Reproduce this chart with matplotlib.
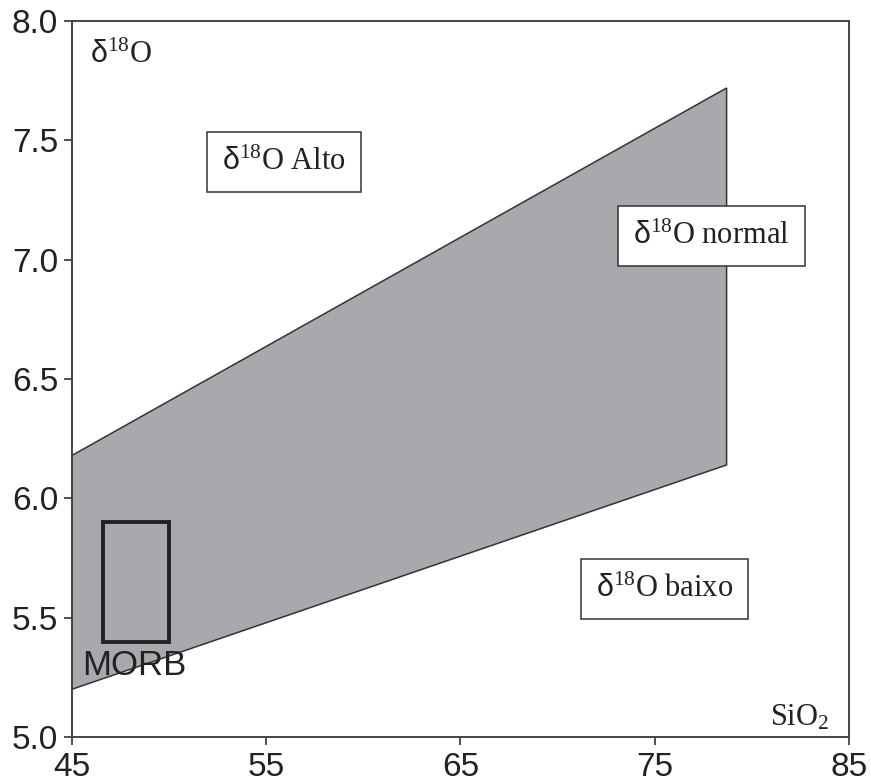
import matplotlib
matplotlib.use('Agg')
import matplotlib.pyplot as plt
from matplotlib.patches import Polygon, Rectangle

plt.rcParams['font.family'] = ['Liberation Sans', 'DejaVu Sans']
plt.rcParams['mathtext.fontset'] = 'custom'
plt.rcParams['mathtext.rm'] = 'Liberation Serif'
plt.rcParams['mathtext.sf'] = 'Liberation Sans'
plt.rcParams['mathtext.it'] = 'Liberation Serif:italic'

# field of normal d18O values (SiO2, d18O), listed around the outline
field_sio2 = [45.0, 78.7, 78.7, 45.0]
field_d18o = [6.18, 7.72, 6.14, 5.20]

# MORB range
morb_sio2 = [46.6, 50.0]
morb_d18o = [5.40, 5.90]

x_ticks = [45, 55, 65, 75, 85]
y_ticks = [5.0, 5.5, 6.0, 6.5, 7.0, 7.5, 8.0]

# region labels: text, SiO2, d18O
labels = [
    (r'$\mathsf{\delta}^{\mathrm{18}}\mathrm{O\ Alto}$', 55.9, 7.41),
    (r'$\mathsf{\delta}^{\mathrm{18}}\mathrm{O\ normal}$', 77.9, 7.10),
    (r'$\mathsf{\delta}^{\mathrm{18}}\mathrm{O\ baixo}$', 75.5, 5.62),
]

fig = plt.figure(figsize=(8.71, 7.84), dpi=100)
ax = fig.add_axes([0.0827, 0.060, 0.892, 0.913])

ax.add_patch(Polygon(list(zip(field_sio2, field_d18o)), closed=True,
                     facecolor='#a7a9ac', edgecolor='#333333', lw=1.1, zorder=1))
ax.add_patch(Rectangle((morb_sio2[0], morb_d18o[0]),
                       morb_sio2[1] - morb_sio2[0], morb_d18o[1] - morb_d18o[0],
                       facecolor='none', edgecolor='#222222', lw=2.8, zorder=2))
ax.text(45.5, 5.30, 'MORB', fontsize=25, color='#222222',
        ha='left', va='center', zorder=3)

for txt, x, y in labels:
    ax.text(x, y, txt, fontsize=22, color='#222222', ha='center', va='center',
            zorder=4,
            bbox=dict(boxstyle='square,pad=0.5', facecolor='white',
                      edgecolor='#333333', lw=1.1))

ax.text(45.93, 7.86, r'$\mathsf{\delta}^{\mathrm{18}}\mathrm{O}$', fontsize=22,
        color='#222222', ha='left', va='center')
ax.text(84.0, 5.08, r'$\mathrm{SiO_2}$', fontsize=22, color='#222222',
        ha='right', va='center')

ax.set_xlim(45, 85)
ax.set_ylim(5.0, 8.0)
ax.set_xticks(x_ticks)
ax.set_yticks(y_ticks)
ax.set_yticklabels([f'{v:.1f}' for v in y_ticks])
ax.tick_params(direction='out', length=6, width=1.2, colors='#333333',
               labelsize=24, labelcolor='#222222', pad=4)
ax.tick_params(axis='x', pad=5)
for s in ax.spines.values():
    s.set_color('#444444')
    s.set_linewidth(1.4)

fig.savefig('out.png', dpi=100)
